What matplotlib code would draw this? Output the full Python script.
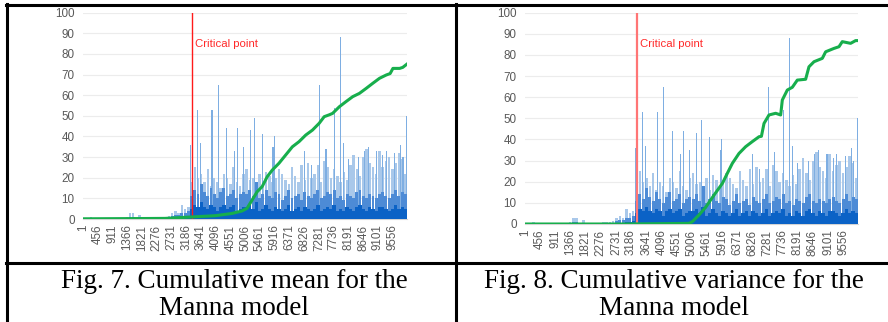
import numpy as np
import matplotlib
matplotlib.use("Agg")
import matplotlib.pyplot as plt
from matplotlib.lines import Line2D

# ---------------- data ----------------
N_POINTS = 10000
BIN = 100  # each value below summarises 100 consecutive steps
tick_labels = [1, 456, 911, 1366, 1821, 2276, 2731, 3186, 3641, 4096, 4551,
               5006, 5461, 5916, 6371, 6826, 7281, 7736, 8191, 8646, 9101, 9556]

# light (highest) level of avalanche bars in each bin
bar_peak = [0, 0, 1, 0, 0, 0.5, 0, 0, 0, 0.5,
            0, 0, 0.5, 1, 3, 3, 0.5, 2, 0.5, 0,
            0.5, 0.5, 0.5, 1, 1, 1, 1.5, 3, 4, 3,
            7, 5, 6, 18, 25, 20, 22, 18, 24, 16,
            20, 18, 15, 22, 20, 17, 25, 18, 16, 22,
            24, 19, 20, 18, 22, 16, 23, 21, 18, 20,
            24, 22, 19, 17, 25, 21, 18, 26, 19, 27,
            20, 22, 26, 18, 28, 25, 20, 24, 21, 18,
            23, 19, 26, 31, 24, 21, 30, 34, 27, 25,
            22, 33, 25, 28, 30, 24, 27, 32, 29, 22]
# medium-density level
bar_mid = [0, 0, 0, 0, 0, 0, 0, 0, 0, 0,
           0, 0, 0, 0, 1, 1, 0, 0.5, 0, 0,
           0, 0, 0, 0.5, 0.5, 0.5, 0.5, 1.5, 2, 2,
           3, 3, 4, 11, 14, 12, 17, 13, 11, 15,
           12, 10, 13, 15, 11, 12, 14, 10, 12, 13,
           12, 14, 11, 18, 10, 12, 14, 11, 10, 13,
           12, 9, 11, 14, 10, 11, 12, 9, 13, 11,
           10, 12, 14, 10, 11, 13, 12, 14, 10, 11,
           9, 12, 11, 10, 13, 14, 11, 10, 12, 11,
           10, 12, 13, 11, 10, 12, 14, 11, 13, 12]
# dense (dark) level
bar_base = [0, 0, 0, 0, 0, 0, 0, 0, 0, 0,
            0, 0, 0, 0, 0, 0, 0, 0, 0, 0,
            0, 0, 0, 0, 0, 0, 0, 0.5, 0.5, 0.5,
            1, 1, 1.5, 5, 7, 6, 8, 6, 5, 7,
            6, 4, 6, 7, 5, 6, 7, 4, 5, 6,
            6, 7, 5, 8, 4, 5, 7, 5, 4, 6,
            5, 4, 5, 7, 4, 5, 6, 4, 6, 5,
            4, 5, 7, 4, 5, 6, 5, 7, 4, 5,
            4, 6, 5, 4, 6, 7, 5, 4, 6, 5,
            4, 6, 6, 5, 4, 5, 7, 5, 6, 5]
# individual tall avalanches
spike_idx = [3311, 3538, 3631, 3982, 4168, 4438, 4665, 4770, 4944, 5162,
             5307, 5534, 5865, 5906, 6837, 7044, 7302, 7500, 7758, 7954,
             8037, 8192, 8512, 8698, 8822, 9070, 9256, 9360, 9619, 9796,
             9877, 9982]
spike_val = [36, 53, 37, 53, 65, 44, 33, 44, 35, 43,
             49, 41, 35, 40, 33, 26, 65, 34, 54, 88,
             37, 29, 30, 33, 35, 33, 31, 33, 32, 36,
             30, 50]

critical_point = 3360

# cumulative mean (Fig. 7)
mean_idx = [1, 1500, 2536, 3360, 4084, 4600, 4910, 5065, 5220, 5375, 5530,
            5686, 5841, 6048, 6255, 6462, 6669, 6876, 7083, 7290, 7445, 7600,
            7704, 7911, 8118, 8325, 8532, 8739, 8946, 9152, 9359, 9480, 9566,
            9773, 9870, 10000]
mean_val = [0.1, 0.2, 0.3, 1.0, 1.6, 2.7, 3.9, 5.2, 9.2, 13.2, 15.7,
            20.5, 23.7, 27.0, 31.0, 35.0, 37.5, 40.7, 43.1, 46.4, 49.6, 50.5,
            51.2, 54.4, 56.9, 59.3, 60.9, 63.3, 65.8, 68.2, 69.8, 70.5, 73.0,
            73.0, 73.5, 75.1]

# cumulative variance (Fig. 8)
var_idx = [1, 3000, 4926, 5026, 5226, 5426, 5577, 5727, 5927, 6077, 6227,
           6427, 6627, 6827, 7028, 7100, 7178, 7328, 7528, 7678, 7728, 7878,
           8028, 8178, 8428, 8528, 8679, 8929, 9029, 9279, 9429, 9529, 9779,
           9929, 10000]
var_val = [0.0, 0.0, 0.3, 1.1, 4.3, 7.9, 11.4, 14.8, 19.2, 24.0, 28.7,
           33.4, 36.6, 39.0, 41.3, 41.5, 47.6, 51.6, 52.4, 51.6, 58.7, 63.4,
           64.7, 68.1, 68.5, 74.4, 76.8, 78.4, 81.5, 83.1, 83.9, 86.3, 85.5,
           86.8, 86.8]

captions = ["Fig. 7. Cumulative mean for the\nManna model",
            "Fig. 8. Cumulative variance for the\nManna model"]

# ---------------- styling ----------------
W, H = 888, 322
fig = plt.figure(figsize=(W / 100, H / 100), dpi=100)
fig.patch.set_facecolor("white")

C_LIGHT = "#a9c8ea"
C_MID = "#4d8bd6"
C_DARK = "#0b62c6"
C_SPIKE = "#7eaee2"
C_GREEN = "#17ae4c"
TICK_COLOR = "#595959"
SANS = ["Liberation Sans", "DejaVu Sans"]
SERIF = ["Liberation Serif", "DejaVu Serif"]


def px_axes(x0, x1, y_top, y_bot):
    return fig.add_axes([x0 / W, 1 - y_bot / H, (x1 - x0) / W, (y_bot - y_top) / H])


def draw_panel(ax, line_idx, line_val, red_color, red_lw):
    centers = np.arange(len(bar_peak)) * BIN + BIN / 2 + 0.5
    ax.bar(centers, bar_peak, width=BIN * 0.75, color=C_LIGHT, linewidth=0, zorder=2)
    ax.bar(spike_idx, spike_val, width=32, color=C_SPIKE, linewidth=0, zorder=2.5)
    ax.bar(centers, bar_mid, width=BIN * 0.9, color=C_MID, linewidth=0, zorder=3)
    ax.bar(centers, bar_base, width=BIN, color=C_DARK, linewidth=0, zorder=3.5)
    ax.plot(line_idx, line_val, color=C_GREEN, lw=2.2, zorder=5,
            solid_joinstyle="round")
    ax.axvline(critical_point, ymin=0, ymax=1, color=red_color, lw=red_lw, zorder=4)
    ax.text(critical_point + 90, 85, "Critical point", color="#ff2a2a",
            fontsize=8.2, family=SANS, va="center", ha="left", zorder=6)

    ax.set_xlim(0.5, N_POINTS + 0.5)
    ax.set_ylim(0, 100)
    ax.set_yticks(np.arange(0, 101, 10))
    ax.set_xticks(tick_labels)
    ax.set_xticklabels([str(t) for t in tick_labels], rotation=90)
    ax.tick_params(axis="both", length=0, colors=TICK_COLOR, labelsize=8.4)
    ax.tick_params(axis="y", pad=6)
    ax.tick_params(axis="x", pad=4)
    for lab in ax.get_xticklabels() + ax.get_yticklabels():
        lab.set_family(SANS)
    ax.grid(axis="y", color="#ececec", lw=0.8, zorder=0)
    ax.set_axisbelow(True)
    for s in ["top", "right", "left"]:
        ax.spines[s].set_visible(False)
    ax.spines["bottom"].set_color("#d4d4d4")
    ax.spines["bottom"].set_linewidth(0.8)
    ax.spines["bottom"].set_zorder(1)


ax1 = px_axes(83, 407, 12.7, 219)
draw_panel(ax1, mean_idx, mean_val, "#ff1a1a", 1.0)
ax2 = px_axes(525, 858, 12.7, 224)
draw_panel(ax2, var_idx, var_val, "#ff7575", 1.6)

# ---------------- table borders ----------------
def hline(y, x0, x1):
    fig.add_artist(Line2D([x0 / W, x1 / W], [1 - y / H, 1 - y / H],
                          transform=fig.transFigure, color="black", lw=2.2))


def vline(x, y0, y1):
    fig.add_artist(Line2D([x / W, x / W], [1 - y0 / H, 1 - y1 / H],
                          transform=fig.transFigure, color="black", lw=2.2))


hline(4.5, 6, W + 2)
hline(262.5, 6, W + 2)
vline(7.3, 3.5, H + 2)
vline(455.5, 3.5, H + 2)

# ---------------- captions ----------------
for cx, cap in zip([234, 674], captions):
    l1, l2 = cap.split("\n")
    fig.text(cx / W, 1 - 288 / H, l1, family=SERIF, fontsize=19.5,
             ha="center", va="baseline", color="black")
    fig.text(cx / W, 1 - 315 / H, l2, family=SERIF, fontsize=19.5,
             ha="center", va="baseline", color="black")

fig.savefig("out.png", dpi=100)
